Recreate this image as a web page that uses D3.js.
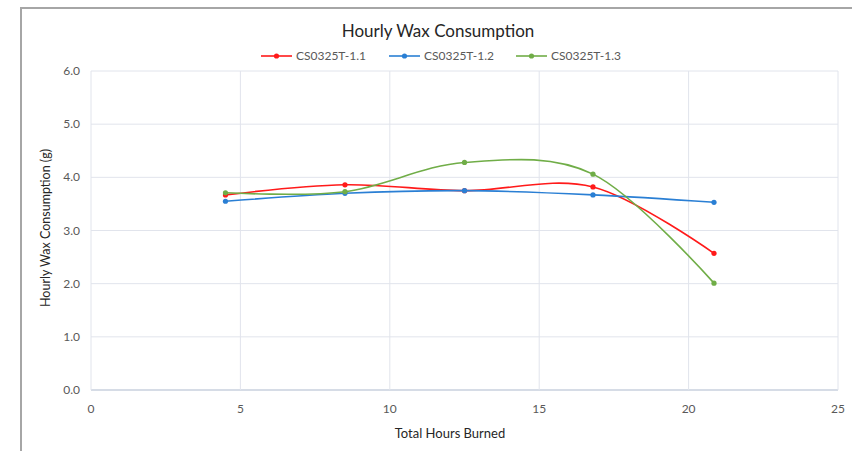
<!DOCTYPE html>
<html>
<head>
<meta charset="utf-8">
<script src="https://cdn.jsdelivr.net/npm/d3@7"></script>
<style>
  html, body { margin: 0; padding: 0; background: #fff; }
  svg { display: block; font-family: Lato, "Open Sans", sans-serif; }
</style>
</head>
<body>
<svg id="chart" width="852" height="451"></svg>
<script>
// chart values
const hours = [4.5, 8.5, 12.5, 16.8, 20.85]
const series = ['CS0325T-1.1', 'CS0325T-1.2', 'CS0325T-1.3']
const wax11 = [3.67, 3.86, 3.75, 3.82, 2.57]
const wax12 = [3.55, 3.70, 3.75, 3.67, 3.53]
const wax13 = [3.71, 3.73, 4.28, 4.06, 2.01]
const xTicks = [0, 5, 10, 15, 20, 25]
const yTicks = [0, 1, 2, 3, 4, 5, 6]
const colors = ['#ff1a1a', '#2a7fd4', '#70ad47']

const $svg = d3.select('#chart')
const MARGIN = { top: 71, right: 14, bottom: 61, left: 91 }
const width = 852, height = 451
const boundedWidth = width - MARGIN.left - MARGIN.right
const boundedHeight = height - MARGIN.top - MARGIN.bottom

const xScale = d3.scaleLinear().domain([0, 25]).range([0, boundedWidth])
const yScale = d3.scaleLinear().domain([0, 6]).range([boundedHeight, 0])
const colorScale = d3.scaleOrdinal().domain(series).range(colors)

const data = [wax11, wax12, wax13].map((vals, i) => ({
  name: series[i],
  points: vals.map((v, j) => ({ x: hours[j], y: v }))
}))

// outer frame of the chart area (top and left edges visible)
$svg.append('path')
  .attr('d', 'M21,451 V8 H852')
  .attr('fill', 'none')
  .attr('stroke', '#a6a6a6')
  .attr('stroke-width', 2)

const $g = $svg.append('g')
  .attr('transform', `translate(${MARGIN.left}, ${MARGIN.top})`)

// grid
$g.selectAll('.hgrid')
  .data(yTicks)
  .enter()
  .append('line')
    .attr('class', 'hgrid')
    .attr('x1', 0)
    .attr('x2', boundedWidth)
    .attr('y1', d => yScale(d))
    .attr('y2', d => yScale(d))
    .attr('stroke', d => d === 0 ? '#c9d0de' : '#e1e4ec')
    .attr('stroke-width', d => d === 0 ? 1.5 : 1)
$g.selectAll('.vgrid')
  .data(xTicks)
  .enter()
  .append('line')
    .attr('class', 'vgrid')
    .attr('y1', 0)
    .attr('y2', boundedHeight)
    .attr('x1', d => xScale(d))
    .attr('x2', d => xScale(d))
    .attr('stroke', '#e1e4ec')
    .attr('stroke-width', 1)

// tick labels
$g.selectAll('.ylab')
  .data(yTicks)
  .enter()
  .append('text')
    .attr('class', 'ylab')
    .attr('x', -11)
    .attr('y', d => yScale(d) + 4)
    .attr('text-anchor', 'end')
    .attr('font-size', 12)
    .attr('fill', '#595959')
    .text(d => d3.format('.1f')(d))
$g.selectAll('.xlab')
  .data(xTicks)
  .enter()
  .append('text')
    .attr('class', 'xlab')
    .attr('x', d => xScale(d))
    .attr('y', boundedHeight + 23)
    .attr('text-anchor', 'middle')
    .attr('font-size', 12)
    .attr('fill', '#595959')
    .text(d => d)

// axis titles
$svg.append('text')
  .attr('x', 450)
  .attr('y', 438)
  .attr('text-anchor', 'middle')
  .attr('font-size', 13)
  .attr('fill', '#262626')
  .text('Total Hours Burned')
$svg.append('text')
  .attr('transform', 'translate(50, 228) rotate(-90)')
  .attr('text-anchor', 'middle')
  .attr('font-size', 12.5)
  .attr('fill', '#262626')
  .text('Hourly Wax Consumption (g)')

// title
$svg.append('text')
  .attr('x', 438)
  .attr('y', 37)
  .attr('text-anchor', 'middle')
  .attr('font-size', 17)
  .attr('fill', '#262626')
  .text('Hourly Wax Consumption')

// lines
const line = d3.line()
  .x(d => xScale(d.x))
  .y(d => yScale(d.y))
  .curve(d3.curveCardinal.tension(0))

const $series = $g.selectAll('.series')
  .data(data)
  .enter()
  .append('g')
    .attr('class', 'series')
$series.append('path')
  .attr('d', d => line(d.points))
  .attr('fill', 'none')
  .attr('stroke', d => colorScale(d.name))
  .attr('stroke-width', 1.6)
$series.selectAll('circle')
  .data(d => d.points.map(p => ({ ...p, name: d.name })))
  .enter()
  .append('circle')
    .attr('cx', d => xScale(d.x))
    .attr('cy', d => yScale(d.y))
    .attr('r', 2.6)
    .attr('fill', d => colorScale(d.name))

// legend
const legendX = [261, 389, 516]
const $legend = $svg.selectAll('.legend')
  .data(series)
  .enter()
  .append('g')
    .attr('class', 'legend')
    .attr('transform', (d, i) => `translate(${legendX[i]}, 56)`)
$legend.append('line')
  .attr('x1', 0)
  .attr('x2', 31)
  .attr('stroke', d => colorScale(d))
  .attr('stroke-width', 1.6)
$legend.append('circle')
  .attr('cx', 15.5)
  .attr('r', 2.6)
  .attr('fill', d => colorScale(d))
$legend.append('text')
  .attr('x', 35)
  .attr('y', 4)
  .attr('font-size', 12)
  .attr('fill', '#595959')
  .text(d => d)
</script>
</body>
</html>
